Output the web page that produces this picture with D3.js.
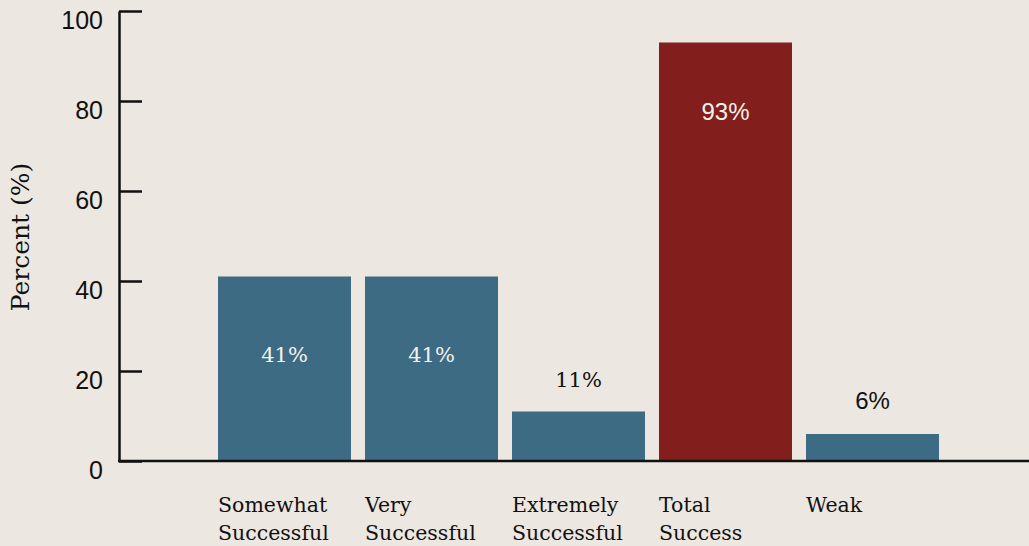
<!DOCTYPE html>
<html>
<head>
<meta charset="utf-8">
<script src="https://cdn.jsdelivr.net/npm/d3@7"></script>
<style>
  html, body { margin: 0; padding: 0; background: #ece7e0; }
  svg { display: block; }
</style>
</head>
<body>
<svg id="canvas" width="1029" height="546"></svg>
<script>
const categories = ['Somewhat Successful', 'Very Successful', 'Extremely Successful', 'Total Success', 'Weak'];
const values = [41, 41, 11, 93, 6];
const yTicks = [0, 20, 40, 60, 80, 100];

const settings = {
  axisX: 119,
  top: 11,
  bottom: 461,
  blue: '#3d6b84',
  red: '#821e1c',
  serif: '"DejaVu Serif", serif',
  sans: '"Liberation Sans", Arial, sans-serif',
};

const svg = d3.select('#canvas');

const y = d3.scaleLinear()
  .domain([0, 100])
  .range([settings.bottom, settings.top]);

// step 147, bar width 133
const x = d3.scaleBand()
  .domain(categories)
  .range([211, 946])
  .paddingInner(14 / 147)
  .paddingOuter(7 / 147);

// bars
svg.append('g')
  .selectAll('rect')
  .data(categories)
  .join('rect')
  .attr('x', d => x(d))
  .attr('y', (d, i) => y(values[i]))
  .attr('width', x.bandwidth())
  .attr('height', (d, i) => y(0) - y(values[i]))
  .attr('fill', d => d === 'Total Success' ? settings.red : settings.blue);

// value labels: inside the bar when tall enough, above otherwise
svg.append('g')
  .selectAll('text')
  .data(categories)
  .join('text')
  .attr('x', d => x(d) + x.bandwidth() / 2)
  .attr('y', (d, i) => values[i] > 20 ? y(values[i]) + 80 + (values[i] < 50 ? 5 : -3) : y(values[i]) - 25)
  .attr('text-anchor', 'middle')
  .attr('font-family', (d, i) => i < 3 ? settings.serif : settings.sans)
  .attr('font-size', (d, i) => i < 3 ? 21 : 24)
  .attr('fill', (d, i) => values[i] > 20 ? '#f4f1ec' : '#111')
  .text((d, i) => values[i] + '%');

// y axis
const yAxis = svg.append('g')
  .attr('transform', `translate(${settings.axisX},0)`)
  .call(d3.axisLeft(y).tickValues(yTicks).tickSize(-23).tickSizeOuter(0).tickPadding(16));
yAxis.select('.domain').attr('stroke', '#111').attr('stroke-width', 2.5);
yAxis.selectAll('.tick line').attr('stroke', '#111').attr('stroke-width', 2.5);
yAxis.selectAll('.tick text')
  .attr('font-family', settings.sans)
  .attr('font-size', 25)
  .attr('fill', '#111')
  .attr('dy', 17);

// x axis baseline spanning the full width
svg.append('line')
  .attr('x1', settings.axisX - 1)
  .attr('x2', 1029)
  .attr('y1', y(0))
  .attr('y2', y(0))
  .attr('stroke', '#111')
  .attr('stroke-width', 2.5);

// category labels, left aligned under each bar, wrapped on the first space
const cat = svg.append('g')
  .selectAll('text')
  .data(categories)
  .join('text')
  .attr('x', d => x(d))
  .attr('y', 512)
  .attr('font-family', settings.serif)
  .attr('font-size', 20.5)
  .attr('fill', '#111');
cat.each(function(d) {
  const words = d.split(' ');
  const t = d3.select(this);
  words.forEach((w, i) => {
    t.append('tspan')
      .attr('x', x(d))
      .attr('dy', i === 0 ? 0 : 28)
      .text(w);
  });
});

// y axis title
svg.append('text')
  .attr('transform', 'translate(29,237) rotate(-90)')
  .attr('text-anchor', 'middle')
  .attr('font-family', settings.serif)
  .attr('font-size', 25)
  .attr('fill', '#111')
  .text('Percent (%)');
</script>
</body>
</html>
